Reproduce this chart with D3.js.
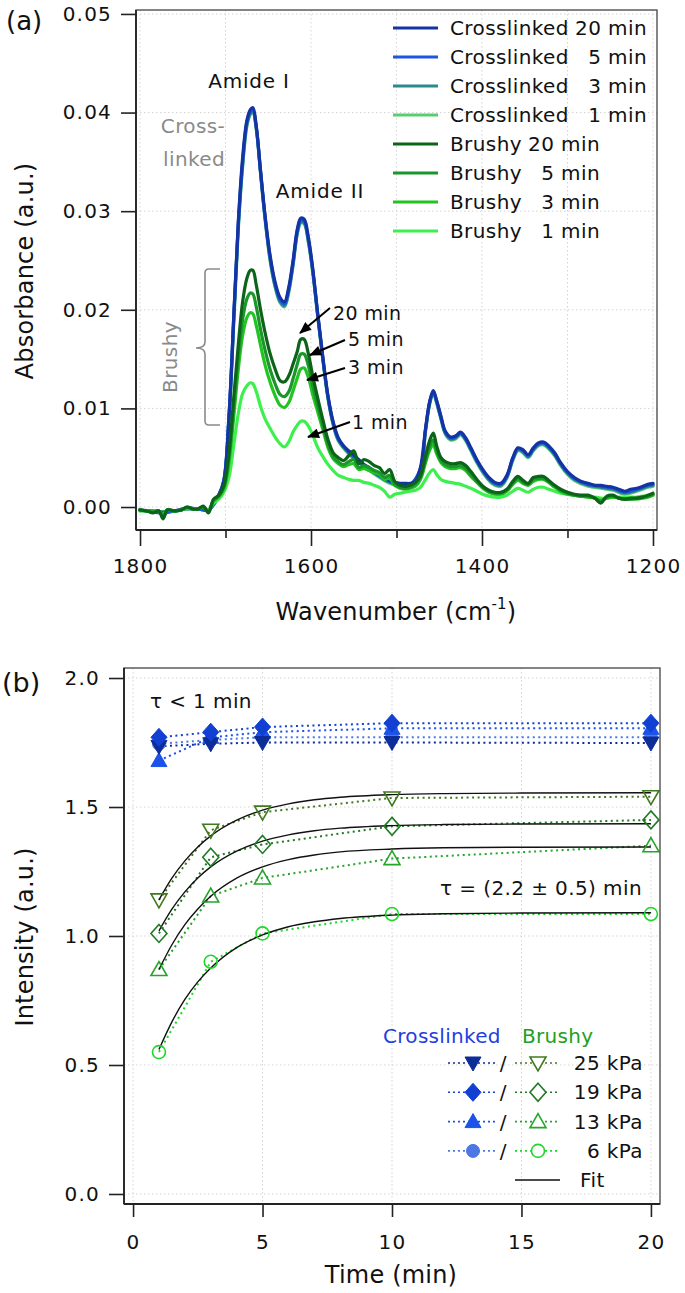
<!DOCTYPE html>
<html><head><meta charset="utf-8">
<script src="https://cdn.jsdelivr.net/npm/d3@7"></script>
<style>body{margin:0;background:#fff}svg{display:block}text{font-family:"DejaVu Sans",sans-serif;fill:#111}</style>
</head><body><svg id="c" width="685" height="1293"></svg>
<script>
// ---------------- Panel (a) data ----------------
const wavenumber = [1800,1792,1785,1778,1773,1768,1760,1752,1745,1738,1732,1726,1720,1714,1708,1702,1696,1690,1685,1680,
1675,1671,1668,1664,1659,1654,1648,1642,1636,1631,1626,1621,1616,1612,1608,1603,1598,1592,1586,1580,
1574,1568,1562,1556,1550,1544,1538,1532,1526,1520,1514,1508,1502,1496,1490,1484,1478,1472,1466,1461,
1457,1453,1448,1443,1437,1431,1425,1419,1413,1406,1399,1392,1385,1378,1371,1364,1358,1352,1346,1340,
1334,1328,1322,1315,1308,1300,1292,1284,1276,1268,1261,1254,1247,1240,1233,1226,1219,1212,1206,1200];
const crosslinked20 = [-0.0003,-0.0004,-0.0005,-0.0004,-0.0007,-0.0003,-0.0004,-0.0003,-0.0001,-0.0002,
-0.0002,0.0000,-0.0004,0.0006,0.0012,0.0026,0.0090,0.0200,0.0290,0.0354,
0.0392,0.0403,0.0405,0.0386,0.0341,0.0298,0.0256,0.0228,0.0212,0.0208,
0.0223,0.0250,0.0282,0.0293,0.0292,0.0273,0.0242,0.0195,0.0151,0.0112,
0.0086,0.0070,0.0062,0.0057,0.0053,0.0048,0.0043,0.0040,0.0036,0.0033,
0.0030,0.0027,0.0025,0.0024,0.0024,0.0024,0.0026,0.0040,0.0080,0.0108,
0.0118,0.0108,0.0092,0.0077,0.0071,0.0072,0.0076,0.0070,0.0060,0.0048,
0.0038,0.0030,0.0025,0.0024,0.0032,0.0050,0.0060,0.0058,0.0053,0.0060,
0.0065,0.0066,0.0062,0.0055,0.0045,0.0036,0.0030,0.0026,0.0024,0.0022,
0.0022,0.0021,0.0020,0.0018,0.0016,0.0018,0.0019,0.0021,0.0023,0.0024];
const brushy20 = [-0.0003,-0.0004,-0.0006,-0.0004,-0.0012,-0.0003,-0.0004,-0.0003,0.0000,-0.0002,
-0.0002,0.0001,-0.0006,0.0008,0.0012,0.0022,0.0055,0.0115,0.0165,0.0208,
0.0232,0.0240,0.0240,0.0225,0.0200,0.0178,0.0156,0.0140,0.0128,0.0127,
0.0133,0.0145,0.0158,0.0170,0.0170,0.0155,0.0133,0.0110,0.0088,0.0068,
0.0055,0.0050,0.0047,0.0052,0.0057,0.0044,0.0048,0.0046,0.0042,0.0040,
0.0034,0.0038,0.0026,0.0022,0.0021,0.0022,0.0025,0.0032,0.0052,0.0068,
0.0075,0.0062,0.0050,0.0046,0.0044,0.0044,0.0045,0.0042,0.0036,0.0028,
0.0021,0.0017,0.0015,0.0015,0.0018,0.0026,0.0031,0.0027,0.0024,0.0030,
0.0031,0.0031,0.0027,0.0022,0.0018,0.0015,0.0013,0.0012,0.0012,0.0009,
0.0004,0.0011,0.0012,0.0009,0.0008,0.0009,0.0009,0.0010,0.0012,0.0014];
const brushy5 = [-0.0003,-0.0004,-0.0005,-0.0004,-0.0010,-0.0003,-0.0004,-0.0003,0.0000,-0.0002,
-0.0002,0.0000,-0.0005,0.0007,0.0011,0.0020,0.0050,0.0105,0.0152,0.0190,
0.0211,0.0217,0.0216,0.0203,0.0180,0.0160,0.0140,0.0125,0.0114,0.0112,
0.0117,0.0130,0.0145,0.0155,0.0155,0.0143,0.0123,0.0102,0.0082,0.0063,
0.0051,0.0046,0.0043,0.0046,0.0048,0.0040,0.0042,0.0040,0.0037,0.0035,
0.0030,0.0032,0.0023,0.0020,0.0019,0.0020,0.0023,0.0030,0.0048,0.0062,
0.0068,0.0057,0.0047,0.0043,0.0041,0.0041,0.0042,0.0039,0.0033,0.0026,
0.0020,0.0016,0.0014,0.0014,0.0017,0.0024,0.0029,0.0025,0.0023,0.0028,
0.0029,0.0029,0.0026,0.0021,0.0017,0.0014,0.0012,0.0011,0.0011,0.0009,
0.0006,0.0010,0.0011,0.0009,0.0008,0.0008,0.0009,0.0010,0.0011,0.0013];
const brushy3 = [-0.0003,-0.0004,-0.0005,-0.0004,-0.0009,-0.0003,-0.0004,-0.0003,-0.0001,-0.0002,
-0.0002,0.0000,-0.0004,0.0006,0.0010,0.0018,0.0045,0.0095,0.0140,0.0174,
0.0192,0.0197,0.0196,0.0184,0.0164,0.0145,0.0127,0.0113,0.0103,0.0101,
0.0106,0.0118,0.0131,0.0140,0.0141,0.0131,0.0114,0.0096,0.0078,0.0060,
0.0049,0.0044,0.0041,0.0043,0.0044,0.0038,0.0039,0.0037,0.0035,0.0033,
0.0028,0.0029,0.0022,0.0019,0.0018,0.0019,0.0021,0.0028,0.0045,0.0058,
0.0063,0.0054,0.0045,0.0041,0.0039,0.0039,0.0040,0.0037,0.0031,0.0025,
0.0019,0.0015,0.0013,0.0013,0.0016,0.0023,0.0027,0.0024,0.0022,0.0026,
0.0028,0.0028,0.0025,0.0020,0.0016,0.0013,0.0012,0.0011,0.0010,0.0009,
0.0007,0.0009,0.0010,0.0009,0.0008,0.0008,0.0008,0.0009,0.0010,0.0012];
const brushy1 = [-0.0004,-0.0004,-0.0005,-0.0004,-0.0008,-0.0003,-0.0004,-0.0003,-0.0001,-0.0002,
-0.0002,0.0000,-0.0003,0.0004,0.0008,0.0015,0.0030,0.0065,0.0095,0.0115,
0.0123,0.0126,0.0125,0.0117,0.0102,0.0090,0.0080,0.0071,0.0064,0.0061,
0.0066,0.0076,0.0083,0.0087,0.0087,0.0082,0.0073,0.0060,0.0051,0.0043,
0.0037,0.0032,0.0030,0.0028,0.0027,0.0027,0.0025,0.0024,0.0022,0.0020,
0.0016,0.0010,0.0013,0.0014,0.0015,0.0016,0.0017,0.0020,0.0028,0.0035,
0.0038,0.0033,0.0028,0.0026,0.0025,0.0024,0.0023,0.0021,0.0019,0.0016,
0.0013,0.0011,0.0010,0.0010,0.0012,0.0016,0.0019,0.0017,0.0015,0.0018,
0.0020,0.0020,0.0018,0.0016,0.0014,0.0013,0.0012,0.0011,0.0010,0.0010,
0.0009,0.0009,0.0010,0.0010,0.0010,0.0010,0.0010,0.0011,0.0011,0.0012];
// crosslinked 1/3/5 min lie almost under the 20 min trace (coarser reading grid)
const wavenumberCL = [1800,1785,1773,1760,1745,1732,1720,1708,1702,1696,1690,1685,1680,1675,1671,1668,1664,1659,1654,1648,
1642,1636,1631,1626,1621,1616,1612,1608,1603,1598,1592,1586,1580,1574,1568,1556,1544,1532,1520,1508,
1496,1484,1472,1466,1461,1457,1453,1448,1443,1437,1431,1425,1419,1413,1406,1399,1392,1385,1378,1371,
1364,1358,1352,1346,1340,1334,1328,1322,1315,1308,1300,1292,1276,1261,1247,1233,1219,1206,1200];
const crosslinked5 = [-0.0003,-0.0005,-0.0006,-0.0004,-0.0001,-0.0002,-0.0003,0.0012,0.0027,0.0092,
0.0200,0.0288,0.0350,0.0390,0.0401,0.0403,0.0385,0.0340,0.0296,0.0254,
0.0226,0.0210,0.0206,0.0221,0.0248,0.0280,0.0291,0.0290,0.0271,0.0241,
0.0194,0.0150,0.0111,0.0085,0.0069,0.0056,0.0047,0.0039,0.0032,0.0026,
0.0023,0.0023,0.0039,0.0079,0.0107,0.0117,0.0107,0.0091,0.0076,0.0070,
0.0071,0.0075,0.0069,0.0059,0.0047,0.0037,0.0029,0.0024,0.0023,0.0031,
0.0049,0.0059,0.0057,0.0052,0.0059,0.0064,0.0065,0.0061,0.0054,0.0044,
0.0035,0.0029,0.0023,0.0021,0.0019,0.0015,0.0018,0.0022,0.0023];
const crosslinked3 = [-0.0003,-0.0004,-0.0005,-0.0004,-0.0002,-0.0002,-0.0003,0.0011,0.0026,0.0090,
0.0196,0.0285,0.0347,0.0388,0.0399,0.0401,0.0384,0.0339,0.0295,0.0252,
0.0224,0.0208,0.0204,0.0219,0.0246,0.0278,0.0289,0.0288,0.0269,0.0239,
0.0193,0.0149,0.0110,0.0084,0.0068,0.0055,0.0046,0.0038,0.0031,0.0025,
0.0022,0.0022,0.0038,0.0078,0.0106,0.0116,0.0106,0.0090,0.0075,0.0069,
0.0070,0.0074,0.0068,0.0058,0.0046,0.0036,0.0028,0.0023,0.0022,0.0030,
0.0048,0.0058,0.0056,0.0051,0.0058,0.0063,0.0064,0.0060,0.0053,0.0043,
0.0034,0.0028,0.0022,0.0020,0.0018,0.0014,0.0017,0.0021,0.0022];
const crosslinked1 = [-0.0004,-0.0004,-0.0005,-0.0004,-0.0002,-0.0002,-0.0003,0.0010,0.0024,0.0086,
0.0192,0.0282,0.0345,0.0386,0.0398,0.0400,0.0383,0.0338,0.0294,0.0251,
0.0223,0.0207,0.0203,0.0218,0.0245,0.0277,0.0288,0.0287,0.0268,0.0238,
0.0192,0.0148,0.0109,0.0083,0.0067,0.0054,0.0045,0.0037,0.0030,0.0024,
0.0021,0.0021,0.0037,0.0077,0.0105,0.0115,0.0105,0.0089,0.0074,0.0068,
0.0069,0.0073,0.0067,0.0057,0.0045,0.0035,0.0027,0.0022,0.0021,0.0029,
0.0047,0.0057,0.0055,0.0050,0.0057,0.0062,0.0063,0.0059,0.0052,0.0042,
0.0033,0.0027,0.0021,0.0019,0.0017,0.0013,0.0016,0.0020,0.0021];
const legendLabelsA = ["Crosslinked","Crosslinked","Crosslinked","Crosslinked","Brushy","Brushy","Brushy","Brushy"];
const legendTimesA = ["20 min","5 min","3 min","1 min","20 min","5 min","3 min","1 min"];
const xTicksA = [1800,1600,1400,1200];
const xMinorA = [1700,1500,1300];
const yTicksA = [0,0.01,0.02,0.03,0.04,0.05];
const arrowLabels = ["20 min","5 min","3 min","1 min"];

// ---------------- Panel (b) data ----------------
const times = [1,3,5,10,20];
const brushy25kPa = [1.14,1.41,1.48,1.535,1.54];
const brushy19kPa = [1.01,1.305,1.355,1.425,1.45];
const brushy13kPa = [0.87,1.155,1.225,1.30,1.35];
const brushy6kPa  = [0.55,0.90,1.01,1.085,1.085];
const cl25kPa = [1.735,1.745,1.75,1.75,1.748];
const cl19kPa = [1.77,1.79,1.81,1.825,1.825];
const cl13kPa = [1.68,1.77,1.79,1.805,1.805];
const cl6kPa  = [1.745,1.76,1.77,1.77,1.77];
const fitTimes = [1,1.5,2,2.5,3,4,5,6,7,8,10,12,15,20];
const fit25 = [1.14,1.224,1.291,1.345,1.388,1.449,1.488,1.512,1.528,1.538,1.548,1.552,1.554,1.555];
const fit19 = [1.02,1.104,1.171,1.225,1.268,1.329,1.368,1.392,1.408,1.418,1.428,1.432,1.434,1.435];
const fit13 = [0.87,0.966,1.044,1.105,1.154,1.224,1.268,1.296,1.314,1.326,1.337,1.342,1.344,1.345];
const fit6  = [0.56,0.667,0.754,0.822,0.876,0.955,1.004,1.036,1.055,1.068,1.081,1.086,1.089,1.090];
const pressureLabels = ["25 kPa","19 kPa","13 kPa","6 kPa"];
const xTicksB = [0,5,10,15,20];
const yTicksB = [0,0.5,1.0,1.5,2.0];

// ---------------- drawing ----------------
const svg = d3.select('#c');
const defs = svg.append('defs');
defs.append('marker').attr('id','ah').attr('viewBox','0 0 12 10').attr('refX',11).attr('refY',5)
  .attr('markerWidth',13).attr('markerHeight',10).attr('markerUnits','userSpaceOnUse').attr('orient','auto')
  .append('path').attr('d','M0,0 L12,5 L0,10 Z').attr('fill','#000');

const FS = 20;
function styleAxis(g, fs, ls){
  g.select('.domain').remove();
  g.selectAll('.tick line').attr('stroke','#222').attr('stroke-width',1.6);
  g.selectAll('.tick text').attr('font-size',fs).attr('letter-spacing',ls).attr('fill','#111')
   .attr('font-family','"DejaVu Sans",sans-serif');
}

// ===== Panel A =====
const A = {l:136,t:10,r:657,b:530};
const xA = d3.scaleLinear().domain([1804.7,1195.3]).range([A.l,A.r]);
const yA = d3.scaleLinear().domain([-0.00233,0.0504]).range([A.b,A.t]);
const gA = svg.append('g');
gA.append('g').selectAll('line').data(xTicksA.concat(xMinorA)).join('line')
  .attr('x1',d=>xA(d)).attr('x2',d=>xA(d)).attr('y1',A.t).attr('y2',A.b)
  .attr('stroke','#d4d4d4').attr('stroke-width',1).attr('stroke-dasharray','1.5,2.5');
gA.append('g').selectAll('line').data(yTicksA).join('line')
  .attr('x1',A.l).attr('x2',A.r).attr('y1',d=>yA(d)).attr('y2',d=>yA(d))
  .attr('stroke','#d4d4d4').attr('stroke-width',1).attr('stroke-dasharray','1.5,2.5');

const clipA = defs.append('clipPath').attr('id','clipA');
clipA.append('rect').attr('x',A.l).attr('y',A.t).attr('width',A.r-A.l).attr('height',A.b-A.t);

const lineA = (xs) => d3.line().x((d,i)=>xA(xs[i])).y(d=>yA(d)).curve(d3.curveCatmullRom.alpha(0.5));
const spectra = [
  {xs:wavenumberCL, v:crosslinked1, c:'#56cf6e'},
  {xs:wavenumberCL, v:crosslinked3, c:'#2a8a8e'},
  {xs:wavenumberCL, v:crosslinked5, c:'#1f56e0'},
  {xs:wavenumber, v:crosslinked20, c:'#1434a4'},
  {xs:wavenumber, v:brushy1, c:'#3ef04e'},
  {xs:wavenumber, v:brushy3, c:'#22c422'},
  {xs:wavenumber, v:brushy5, c:'#1a962a'},
  {xs:wavenumber, v:brushy20, c:'#0b6418'}
];
const gS = gA.append('g').attr('clip-path','url(#clipA)');
spectra.forEach(s=>{
  gS.append('path').attr('d', lineA(s.xs)(s.v)).attr('fill','none').attr('stroke',s.c)
    .attr('stroke-width',3.2).attr('stroke-linejoin','round').attr('stroke-linecap','round');
});
// frame
gA.append('rect').attr('x',A.l).attr('y',A.t).attr('width',A.r-A.l).attr('height',A.b-A.t)
  .attr('fill','none').attr('stroke','#444').attr('stroke-width',1.3);
gA.append('line').attr('x1',A.l).attr('x2',A.l).attr('y1',A.t).attr('y2',A.b).attr('stroke','#222').attr('stroke-width',1.8);
gA.append('line').attr('x1',A.l).attr('x2',A.r).attr('y1',A.b).attr('y2',A.b).attr('stroke','#222').attr('stroke-width',1.8);
// axes
const ayA = gA.append('g').attr('transform',`translate(${A.l},0)`)
  .call(d3.axisLeft(yA).tickValues(yTicksA).tickSize(15).tickPadding(9).tickFormat(d3.format('.2f')));
styleAxis(ayA, FS, 1.2);
const axA = gA.append('g').attr('transform',`translate(0,${A.b})`)
  .call(d3.axisBottom(xA).tickValues(xTicksA).tickSize(16).tickPadding(13).tickFormat(d3.format('d')));
styleAxis(axA, FS, 1.2);
const axmA = gA.append('g').attr('transform',`translate(0,${A.b})`)
  .call(d3.axisBottom(xA).tickValues(xMinorA).tickSize(8).tickFormat(''));
styleAxis(axmA, FS, 0);

// legend A
const legColors = ['#1434a4','#1f56e0','#2a8a8e','#56cf6e','#0b6418','#1a962a','#22c422','#3ef04e'];
legendLabelsA.forEach((lab,i)=>{
  const y = 28 + i*29;
  gA.append('line').attr('x1',393).attr('x2',438).attr('y1',y).attr('y2',y).attr('stroke',legColors[i]).attr('stroke-width',3);
  gA.append('text').attr('x',450).attr('y',y+7).attr('font-size',FS).attr('letter-spacing',0.4).text(lab);
  gA.append('text').attr('x', i<4?647:600).attr('y',y+7).attr('font-size',FS).attr('letter-spacing',0.4)
    .attr('text-anchor','end').text(legendTimesA[i]);
});

// annotations A
gA.append('text').attr('x',249).attr('y',88).attr('text-anchor','middle').attr('font-size',FS).attr('letter-spacing',0.8).text('Amide I');
gA.append('text').attr('x',320).attr('y',198).attr('text-anchor','middle').attr('font-size',FS).attr('letter-spacing',0.8).text('Amide II');
gA.append('text').attr('x',193).attr('y',133).attr('text-anchor','middle').attr('font-size',FS).attr('letter-spacing',0.4).style('fill','#8a8a8a').text('Cross-');
gA.append('text').attr('x',194).attr('y',166).attr('text-anchor','middle').attr('font-size',FS).attr('letter-spacing',0.4).style('fill','#8a8a8a').text('linked');
gA.append('text').attr('transform','translate(177,357) rotate(-90)').attr('text-anchor','middle').attr('font-size',FS).attr('letter-spacing',0.4).style('fill','#8a8a8a').text('Brushy');
gA.append('path').attr('d','M220,269 L209,269 Q205,269 205,273 L205,342 Q205,348 196,348 Q205,348 205,354 L205,421 Q205,425 209,425 L220,425')
  .attr('fill','none').attr('stroke','#8a8a8a').attr('stroke-width',1.6);
const arrows = [
  {tx:333,ty:320,x1:330,y1:308,x2:300,y2:333},
  {tx:348,ty:346,x1:345,y1:340,x2:310,y2:355},
  {tx:348,ty:374,x1:345,y1:368,x2:307,y2:380},
  {tx:352,ty:429,x1:350,y1:422,x2:308,y2:437}
];
arrows.forEach((a,i)=>{
  gA.append('line').attr('x1',a.x1).attr('y1',a.y1).attr('x2',a.x2).attr('y2',a.y2)
    .attr('stroke','#000').attr('stroke-width',2).attr('marker-end','url(#ah)');
  gA.append('text').attr('x',a.tx).attr('y',a.ty).attr('font-size',19).attr('letter-spacing',0.4).text(arrowLabels[i]);
});
// titles A
gA.append('text').attr('x',6).attr('y',30).attr('font-size',26).text('(a)');
gA.append('text').attr('transform','translate(33,271) rotate(-90)').attr('text-anchor','middle').attr('font-size',24).attr('letter-spacing',0.2).text('Absorbance (a.u.)');
const tA = gA.append('text').attr('x',396).attr('y',620).attr('text-anchor','middle').attr('font-size',24).attr('letter-spacing',0.2);
tA.append('tspan').text('Wavenumber (cm');
tA.append('tspan').attr('dy',-11).attr('font-size',15).text('-1');
tA.append('tspan').attr('dy',11).text(')');

// ===== Panel B =====
const B = {l:124,t:668,r:660,b:1204};
const xB = d3.scaleLinear().domain([-0.35,20.35]).range([B.l,B.r]);
const yB = d3.scaleLinear().domain([-0.0388,2.0388]).range([B.b,B.t]);
const gB = svg.append('g');
gB.append('g').selectAll('line').data(xTicksB).join('line')
  .attr('x1',d=>xB(d)).attr('x2',d=>xB(d)).attr('y1',B.t).attr('y2',B.b)
  .attr('stroke','#d4d4d4').attr('stroke-width',1).attr('stroke-dasharray','1.5,2.5');
gB.append('g').selectAll('line').data(yTicksB).join('line')
  .attr('x1',B.l).attr('x2',B.r).attr('y1',d=>yB(d)).attr('y2',d=>yB(d))
  .attr('stroke','#d4d4d4').attr('stroke-width',1).attr('stroke-dasharray','1.5,2.5');

const sym = {
  down: 'M-8,-6 L8,-6 L0,8 Z',
  up: 'M-8,6 L8,6 L0,-8 Z',
  diamond: 'M0,-9 L8,0 L0,9 L-8,0 Z',
  circle: d3.symbol(d3.symbolCircle, 133)()
};
const lineB = (xs) => d3.line().x((d,i)=>xB(xs[i])).y(d=>yB(d));
const lineFit = (xs) => d3.line().x((d,i)=>xB(xs[i])).y(d=>yB(d)).curve(d3.curveMonotoneX);

const brushySeries = [
  {v:brushy25kPa, fit:fit25, s:'down', c:'#41791e'},
  {v:brushy19kPa, fit:fit19, s:'diamond', c:'#1f7a24'},
  {v:brushy13kPa, fit:fit13, s:'up', c:'#25a52a'},
  {v:brushy6kPa, fit:fit6, s:'circle', c:'#1fd62a'}
];
const clSeries = [
  {v:cl25kPa, s:'down', c:'#0d2d98'},
  {v:cl19kPa, s:'diamond', c:'#1140d2'},
  {v:cl13kPa, s:'up', c:'#1a52ea'},
  {v:cl6kPa, s:'circle', c:'#4d78e4'}
];
brushySeries.forEach(s=>{
  gB.append('path').attr('d',lineB(times)(s.v)).attr('fill','none').attr('stroke',s.c)
    .attr('stroke-width',2).attr('stroke-dasharray','2,3.5');
});
clSeries.forEach(s=>{
  gB.append('path').attr('d',lineB(times)(s.v)).attr('fill','none').attr('stroke',s.c)
    .attr('stroke-width',2).attr('stroke-dasharray','2,3.5');
});
brushySeries.forEach(s=>{
  gB.append('path').attr('d',lineFit(fitTimes)(s.fit)).attr('fill','none').attr('stroke','#111').attr('stroke-width',1.4);
});
brushySeries.forEach(s=>{
  gB.append('g').selectAll('path').data(s.v).join('path')
    .attr('transform',(d,i)=>`translate(${xB(times[i])},${yB(d)})`)
    .attr('d',sym[s.s]).attr('fill','none').attr('stroke',s.c).attr('stroke-width',1.6);
});
[3,2,0,1].forEach(k=>{
  const s = clSeries[k];
  gB.append('g').selectAll('path').data(s.v).join('path')
    .attr('transform',(d,i)=>`translate(${xB(times[i])},${yB(d)})`)
    .attr('d',sym[s.s]).attr('fill',s.c).attr('stroke',s.c).attr('stroke-width',1);
});
gB.append('rect').attr('x',B.l).attr('y',B.t).attr('width',B.r-B.l).attr('height',B.b-B.t)
  .attr('fill','none').attr('stroke','#444').attr('stroke-width',1.3);
gB.append('line').attr('x1',B.l).attr('x2',B.l).attr('y1',B.t).attr('y2',B.b).attr('stroke','#222').attr('stroke-width',1.8);
gB.append('line').attr('x1',B.l).attr('x2',B.r).attr('y1',B.b).attr('y2',B.b).attr('stroke','#222').attr('stroke-width',1.8);
const ayB = gB.append('g').attr('transform',`translate(${B.l},0)`)
  .call(d3.axisLeft(yB).tickValues(yTicksB).tickSize(15).tickPadding(9).tickFormat(d3.format('.1f')));
styleAxis(ayB, FS, 1.2);
const axB = gB.append('g').attr('transform',`translate(0,${B.b})`)
  .call(d3.axisBottom(xB).tickValues(xTicksB).tickSize(13).tickPadding(18).tickFormat(d3.format('d')));
styleAxis(axB, FS, 1.2);

gB.append('text').attr('x',150).attr('y',708).attr('font-size',FS).attr('letter-spacing',0.4).text('τ < 1 min');
gB.append('text').attr('x',642).attr('y',895).attr('text-anchor','end').attr('font-size',FS).attr('letter-spacing',0.4).text('τ = (2.2 ± 0.5) min');
gB.append('text').attr('x',2).attr('y',692).attr('font-size',27).text('(b)');
gB.append('text').attr('transform','translate(33,937) rotate(-90)').attr('text-anchor','middle').attr('font-size',24).attr('letter-spacing',0.2).text('Intensity (a.u.)');
gB.append('text').attr('x',391).attr('y',1283).attr('text-anchor','middle').attr('font-size',24).attr('letter-spacing',0.2).text('Time (min)');

gB.append('text').attr('x',383).attr('y',1043).attr('font-size',FS).attr('letter-spacing',0.3).style('fill','#1f40e0').text('Crosslinked');
gB.append('text').attr('x',522).attr('y',1043).attr('font-size',FS).attr('letter-spacing',0.3).style('fill','#22a022').text('Brushy');
pressureLabels.forEach((lab,i)=>{
  const y = 1063 + i*29.3;
  const cs = clSeries[i], bs = brushySeries[i];
  gB.append('line').attr('x1',448).attr('x2',495).attr('y1',y).attr('y2',y).attr('stroke',cs.c).attr('stroke-width',1.6).attr('stroke-dasharray','2,3');
  gB.append('path').attr('transform',`translate(473,${y})`).attr('d',sym[cs.s]).attr('fill',cs.c).attr('stroke',cs.c);
  gB.append('text').attr('x',503).attr('y',y+7).attr('text-anchor','middle').attr('font-size',FS).text('/');
  gB.append('line').attr('x1',515).attr('x2',560).attr('y1',y).attr('y2',y).attr('stroke',bs.c).attr('stroke-width',1.6).attr('stroke-dasharray','2,3');
  gB.append('path').attr('transform',`translate(538,${y})`).attr('d',sym[bs.s]).attr('fill','#fff').attr('stroke',bs.c).attr('stroke-width',1.6);
  gB.append('text').attr('x',643).attr('y',y+7).attr('text-anchor','end').attr('font-size',FS).attr('letter-spacing',0.4).text(lab);
});
gB.append('line').attr('x1',515).attr('x2',560).attr('y1',1180).attr('y2',1180).attr('stroke','#111').attr('stroke-width',1.5);
gB.append('text').attr('x',580).attr('y',1187).attr('font-size',FS).attr('letter-spacing',0.4).text('Fit');
</script></body></html>
